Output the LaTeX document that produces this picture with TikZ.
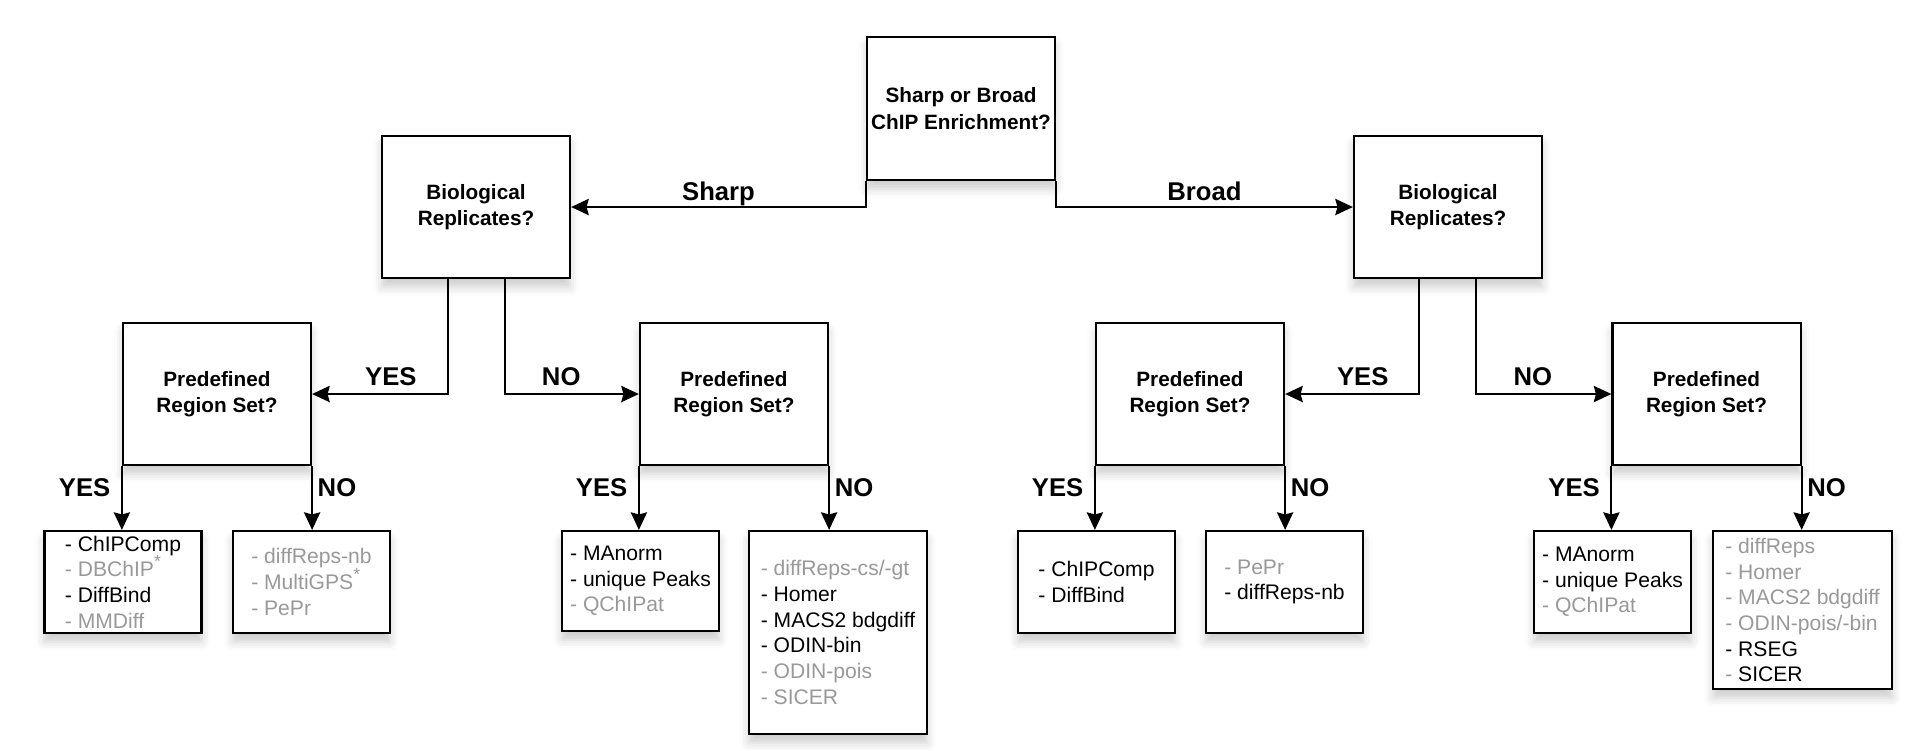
\documentclass[tikz,border=0pt]{standalone}
\usepackage{fontspec}
\setmainfont{Liberation Sans}
\usetikzlibrary{arrows.meta}
\usetikzlibrary{calc}
\usetikzlibrary{shadows.blur}

\definecolor{toolgray}{gray}{0.6}
\newcommand{\gtool}[1]{\textcolor{toolgray}{- #1}}

\begin{document}
\begin{tikzpicture}[x=0.01cm,y=-0.01cm,>={Stealth[length=5pt,width=4.6pt,inset=0.6pt]},line width=0.6pt,
    boxshadow/.style={blur shadow={shadow xshift=0pt,shadow yshift=-2.5pt,shadow blur radius=2.5pt,shadow opacity=20}},
    question/.style={draw,fill=white,boxshadow,minimum width=1.88cm,minimum height=1.42cm,inner sep=0pt,
        align=center,font=\fontsize{5.9}{7.5}\selectfont\bfseries},
    tools/.style={draw,fill=white,boxshadow,minimum width=1.57cm,minimum height=1.02cm,inner sep=0pt,
        align=left,font=\fontsize{6}{7.3}\selectfont},
    answer/.style={inner sep=0pt,font=\fontsize{7.3}{8}\selectfont\bfseries}]
    \useasboundingbox (0,0) rectangle (1910,750);

    \node[question,minimum height=1.43cm] (enrich) at (961,108.5) {Sharp or Broad\\ChIP Enrichment?};
    \node[question] (bioS) at (476,207) {Biological\\Replicates?};
    \node[question] (bioB) at (1448,207) {Biological\\Replicates?};
    \node[question] (predSY) at (217,394) {Predefined\\Region Set?};
    \node[question] (predSN) at (734,394) {Predefined\\Region Set?};
    \node[question] (predBY) at (1190,394) {Predefined\\Region Set?};
    \node[question] (predBN) at (1706.5,394) {Predefined\\Region Set?};

    \node[tools] (sYY) at (123,582) {- ChIPComp\\\gtool{DBChIP\textsuperscript{\tiny *}}\\- DiffBind\\\gtool{MMDiff}};
    \node[tools] (sYN) at (311.5,582) {\gtool{diffReps-nb}\\\gtool{MultiGPS\textsuperscript{\tiny *}}\\\gtool{PePr}};
    \node[tools,minimum height=1cm] (sNY) at (640.5,581) {- MAnorm\\- unique Peaks\\\gtool{QChIPat}};
    \node[tools,minimum width=1.78cm,minimum height=2.03cm] (sNN) at (838,632.5)
        {\gtool{diffReps-cs/-gt}\\- Homer\\- MACS2 bdgdiff\\- ODIN-bin\\\gtool{ODIN-pois}\\\gtool{SICER}};
    \node[tools] (bYY) at (1096.5,582) {- ChIPComp\\- DiffBind};
    \node[tools] (bYN) at (1284.5,582) {\gtool{PePr}\\- diffReps-nb};
    \node[tools] (bNY) at (1612.5,582) {- MAnorm\\- unique Peaks\\\gtool{QChIPat}};
    \node[tools,minimum width=1.79cm,minimum height=1.58cm] (bNN) at (1802.5,610)
        {\gtool{diffReps}\\\gtool{Homer}\\\gtool{MACS2 bdgdiff}\\\gtool{ODIN-pois/-bin}\\- RSEG\\\textcolor{toolgray}{-} SICER};

    \draw[->] (enrich.south west) |- (bioS.east) node[answer,text depth=0pt,pos=0.75,above=1.6pt] {Sharp};
    \draw[->] (enrich.south east) |- (bioB.west) node[answer,text depth=0pt,pos=0.75,above=1.6pt] {Broad};

    \coordinate (bioSyes) at ($(bioS.south)+(-28,0)$);
    \coordinate (bioSno) at ($(bioS.south)+(29,0)$);
    \coordinate (bioByes) at ($(bioB.south)+(-29,0)$);
    \coordinate (bioBno) at ($(bioB.south)+(28,0)$);
    \draw[->] (bioSyes) |- (predSY.east) node[answer,pos=0.71,above=2pt] {YES};
    \draw[->] (bioSno) |- (predSN.west) node[answer,pos=0.71,above=2pt] {NO};
    \draw[->] (bioByes) |- (predBY.east) node[answer,pos=0.71,above=2pt] {YES};
    \draw[->] (bioBno) |- (predBN.west) node[answer,pos=0.71,above=2pt] {NO};

    \foreach \q/\y/\n in {predSY/sYY/sYN,predSN/sNY/sNN,predBY/bYY/bYN,predBN/bNY/bNN}{
        \draw[->] (\q.south west) -- (\q.south west |- \y.north) node[answer,pos=0.33,left=3pt] {YES};
        \draw[->] (\q.south east) -- (\q.south east |- \n.north) node[answer,pos=0.33,right=1.3pt] {NO};
    }
\end{tikzpicture}
\end{document}
